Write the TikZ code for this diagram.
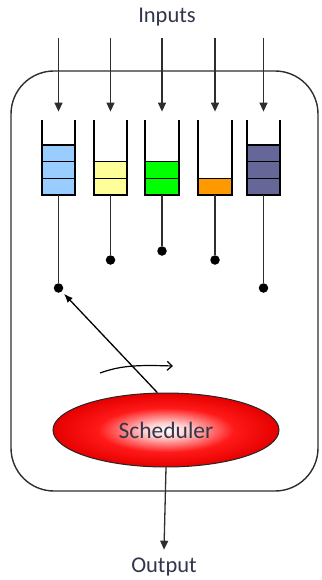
\documentclass[tikz,border=0pt]{standalone}
\usepackage{fontspec}
\setmainfont{Carlito}
\usetikzlibrary{arrows.meta,shapes.geometric}
\definecolor{qblue}{HTML}{99CCFF}
\definecolor{qyellow}{HTML}{FFFF99}
\definecolor{qgreen}{HTML}{00FF00}
\definecolor{qorange}{HTML}{FF9900}
\definecolor{qpurple}{HTML}{666699}
\definecolor{inkline}{HTML}{2E2E2E}
\definecolor{labelink}{HTML}{33364A}
\pgfdeclareradialshading{schedglow}{\pgfpoint{0bp}{0bp}}{%
  color(0bp)=(white); color(5bp)=(red!20); color(15bp)=(red!90);
  color(25bp)=(red!90!black); color(50bp)=(red!90!black)}
\tikzset{
  frame/.style={draw=inkline, line width=1.4pt, rounded corners=43pt},
  queuebox/.style={rectangle, minimum width=33pt, minimum height=75pt, inner sep=0pt},
  qwall/.style={draw=black, line width=1.8pt},
  cellline/.style={draw=black, line width=1.5pt},
  stem/.style={draw=inkline, line width=1.3pt},
  dot/.style={circle, fill=black, inner sep=0pt, minimum size=9.5pt},
  feed/.style={draw=inkline, line width=1.3pt, -{Triangle[width=8pt,length=9pt]}},
  pick/.style={draw=black, line width=1.3pt, -{Latex[width=7pt,length=9pt]}},
  rotate arrow/.style={draw=black, line width=1.2pt, -{Straight Barb[width=9pt,length=5pt]}},
  label text/.style={text=labelink, font=\fontsize{22.5}{26}\selectfont, inner sep=0pt},
  schedbox/.style={ellipse, draw=black!85, line width=1pt, shading=schedglow,
    minimum width=226pt, minimum height=74pt, inner sep=0pt,
    text=labelink, font=\fontsize{23.5}{27}\selectfont}
}
\begin{document}
\begin{tikzpicture}[x=1pt,y=-1pt]
\useasboundingbox (0,0) rectangle (321,580);

% outer system boundary
\draw[frame] (11,71) rectangle (318,491);

% input queues: centre x / filled cells / colour / dot depth
\foreach \x/\n/\c/\d [count=\i] in {58.5/3/qblue/288, 110.5/2/qyellow/260,
    162/2/qgreen/251, 215/1/qorange/260, 263.5/3/qpurple/288} {
  \node[queuebox, anchor=south] (q\i) at (\x,195) {};
  \fill[\c] (\x-16.5,195-\n*16.67) rectangle (\x+16.5,195);
  \foreach \k in {1,...,\n}
    \draw[cellline] (\x-16.5,195-\k*16.67) -- (\x+16.5,195-\k*16.67);
  \draw[qwall] (q\i.north west) -- (q\i.south west) -- (q\i.south east) -- (q\i.north east);
  \coordinate (in\i) at (\x,38);
  \draw[feed] (in\i) -- ([yshift=8pt]q\i.north);
  \node[dot] (d\i) at (\x,\d) {};
  \draw[stem] (q\i.south) -- (d\i);
}

\node[label text] (inputs) at (167,17) {Inputs};

% scheduler and its selector arm
\node[schedbox] (sched) at (166,430) {Scheduler};
\draw[pick, shorten >=3pt] (sched.103) -- (d1);

% rotation of the selector
\coordinate (rotA) at (100,373);
\coordinate (rotB) at (173,366);
\draw[rotate arrow] (rotA) .. controls (122,365) and (140,365) .. (rotB);

% output
\node[label text] (output) at (164,567) {Output};
\draw[feed] (sched.south) -- ([yshift=8pt]output.north);
\end{tikzpicture}
\end{document}
